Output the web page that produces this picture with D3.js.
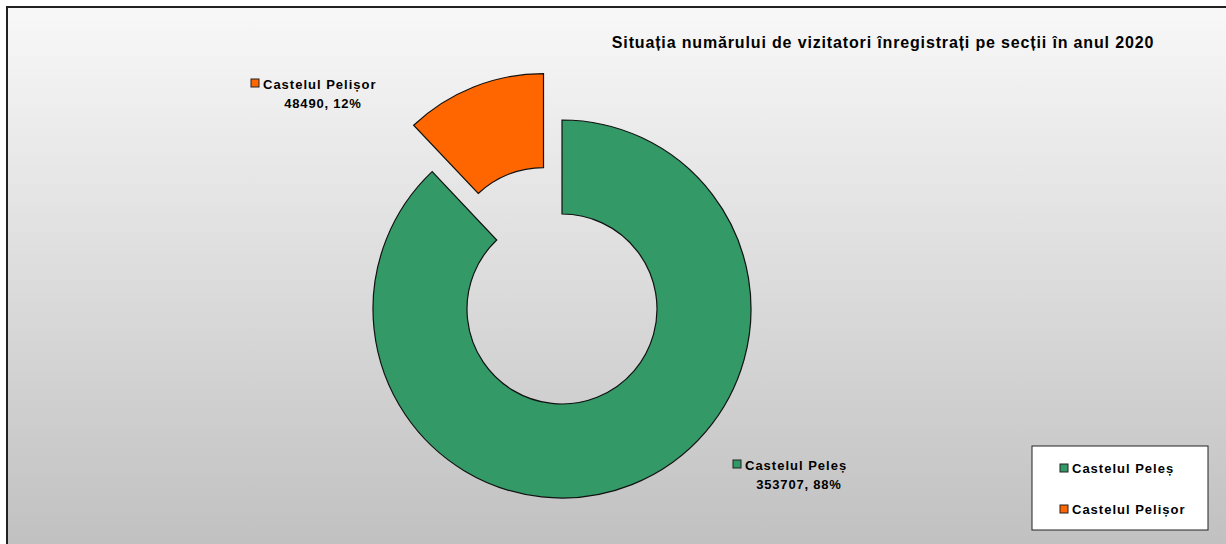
<!DOCTYPE html>
<html>
<head>
<meta charset="utf-8">
<script src="https://cdn.jsdelivr.net/npm/d3@7"></script>
<style>
  html, body { margin: 0; padding: 0; background: #fff; }
  svg { display: block; font-family: "Liberation Sans", Arial, sans-serif; }
</style>
</head>
<body>
<svg id="chart"></svg>
<script>
// date grafic
const categories = ["Castelul Peleș", "Castelul Pelișor"];
const visitors = [353707, 48490];
const percentLabels = ["88%", "12%"];
const colors = ["#339966", "#FF6600"];
const titleText = "Situația numărului de vizitatori înregistrați pe secții în anul 2020";

const width = 1226, height = 544;
const cx = 562, cy = 309, outerR = 189, innerR = 95;
const explode = [0, 50];

const data = categories.map((c, i) => ({ name: c, value: visitors[i], pct: percentLabels[i], color: colors[i], explode: explode[i] }));

const svg = d3.select("#chart")
  .attr("width", width)
  .attr("height", height)
  .attr("viewBox", [0, 0, width, height]);

const defs = svg.append("defs");
const grad = defs.append("linearGradient")
  .attr("id", "bg")
  .attr("x1", 0).attr("y1", 0).attr("x2", 0).attr("y2", 1);
grad.append("stop").attr("offset", "0%").attr("stop-color", "#f8f8f8");
grad.append("stop").attr("offset", "100%").attr("stop-color", "#bfbfbf");

// chenarul graficului
svg.append("rect")
  .attr("x", 7).attr("y", 7)
  .attr("width", width + 10).attr("height", height + 10)
  .attr("fill", "url(#bg)")
  .attr("stroke", "#222")
  .attr("stroke-width", 2);

const pie = d3.pie().sort(null).value(d => d.value).startAngle(0).endAngle(2 * Math.PI);
const arc = d3.arc().innerRadius(innerR).outerRadius(outerR);

svg.append("g")
  .attr("transform", `translate(${cx},${cy})`)
  .selectAll("path")
  .data(pie(data))
  .join("path")
  .attr("transform", d => {
    const a = (d.startAngle + d.endAngle) / 2;
    return `translate(${Math.sin(a) * d.data.explode},${-Math.cos(a) * d.data.explode})`;
  })
  .attr("d", arc)
  .attr("fill", d => d.data.color)
  .attr("stroke", "#111")
  .attr("stroke-width", 1.2);

// titlu
svg.append("text")
  .attr("x", 883)
  .attr("y", 48)
  .attr("text-anchor", "middle")
  .attr("font-size", 16)
  .attr("font-weight", "bold")
  .attr("letter-spacing", 0.85)
  .attr("fill", "#000")
  .text(titleText);

// etichete de date
const labelPos = [
  { x: 745, y: 470, cx2: 799 },
  { x: 263, y: 89, cx2: 323 }
];
const labels = svg.append("g").selectAll("g")
  .data(data)
  .join("g");
labels.append("rect")
  .attr("x", (d, i) => labelPos[i].x - 12)
  .attr("y", (d, i) => labelPos[i].y - 10)
  .attr("width", 8).attr("height", 8)
  .attr("fill", d => d.color)
  .attr("stroke", "#222");
labels.append("text")
  .attr("x", (d, i) => labelPos[i].x)
  .attr("y", (d, i) => labelPos[i].y)
  .attr("font-size", 13)
  .attr("font-weight", "bold")
  .attr("letter-spacing", 1)
  .text(d => d.name);
labels.append("text")
  .attr("x", (d, i) => labelPos[i].cx2)
  .attr("y", (d, i) => labelPos[i].y + 19)
  .attr("text-anchor", "middle")
  .attr("font-size", 13)
  .attr("font-weight", "bold")
  .attr("letter-spacing", 0.8)
  .text(d => `${d.value}, ${d.pct}`);

// legenda
const legend = svg.append("g").attr("transform", "translate(1032,446)");
legend.append("rect")
  .attr("width", 176).attr("height", 84)
  .attr("fill", "#fff")
  .attr("stroke", "#222");
const items = legend.selectAll("g.item")
  .data(data)
  .join("g")
  .attr("class", "item")
  .attr("transform", (d, i) => `translate(28,${27 + i * 41})`);
items.append("rect")
  .attr("x", 0).attr("y", -9)
  .attr("width", 8).attr("height", 8)
  .attr("fill", d => d.color)
  .attr("stroke", "#222");
items.append("text")
  .attr("x", 12)
  .attr("y", 0)
  .attr("font-size", 13)
  .attr("font-weight", "bold")
  .attr("letter-spacing", 1)
  .text(d => d.name);
</script>
</body>
</html>
